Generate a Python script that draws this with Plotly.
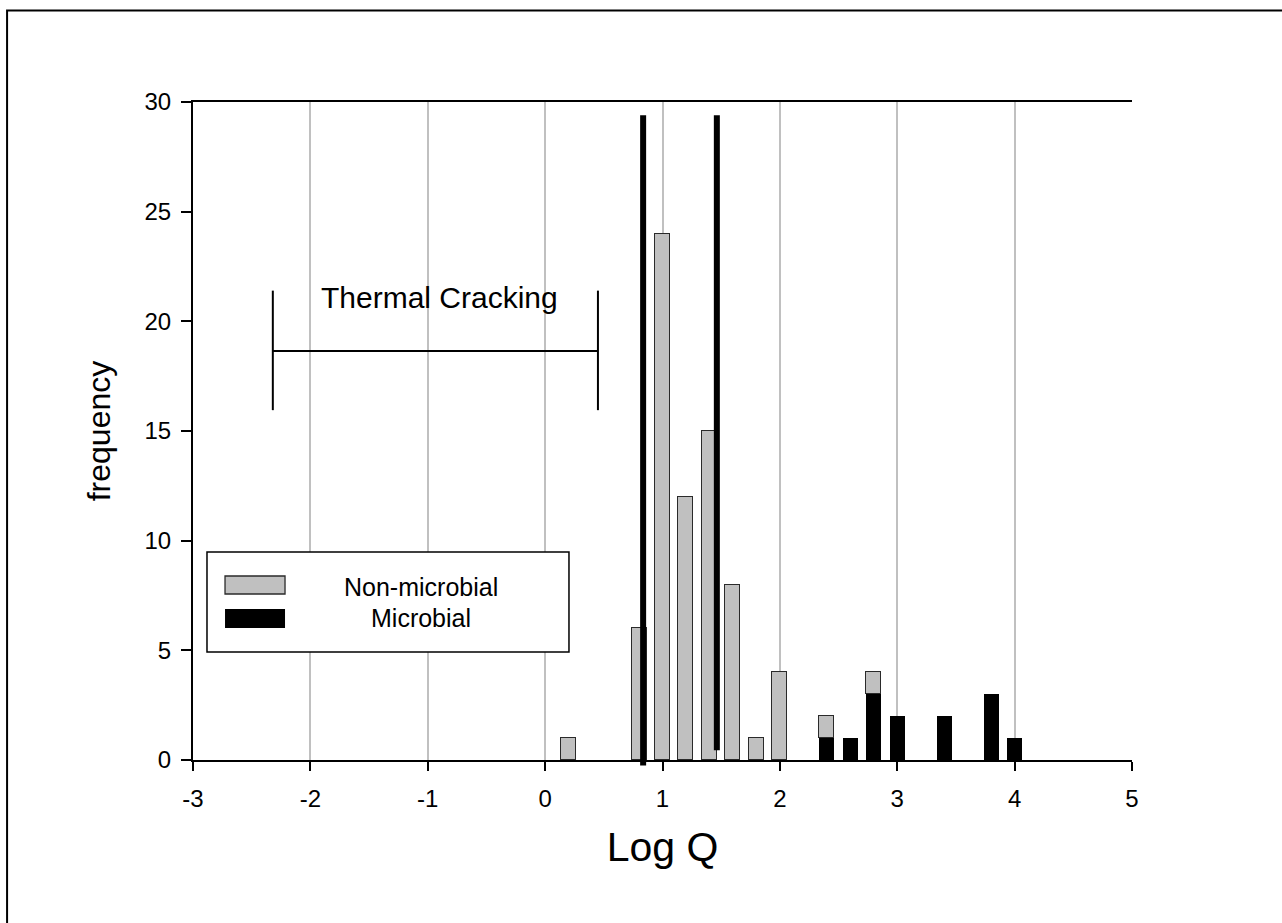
import plotly.graph_objects as go

# ---------------- data ----------------
bin_centers = [0.2, 0.8, 1.0, 1.2, 1.4, 1.6, 1.8, 2.0, 2.4, 2.6, 2.8, 3.0, 3.4, 3.8, 4.0]
non_microbial = [1, 6, 24, 12, 15, 8, 1, 4, 1, 0, 1, 0, 0, 0, 0]
microbial = [0, 0, 0, 0, 0, 0, 0, 0, 1, 1, 3, 2, 2, 3, 1]

x_ticks = [-3, -2, -1, 0, 1, 2, 3, 4, 5]
x_tick_labels = ["-3", "-2", "-1", "0", "1", "2", "3", "4", "5"]
x_grid = [-2, -1, 0, 1, 2, 3, 4]
y_ticks = [0, 5, 10, 15, 20, 25, 30]
y_tick_labels = ["0", "5", "10", "15", "20", "25", "30"]

ref_lines_x = [0.835, 1.463]
ref_lines_bottom = [-0.25, 0.45]
ref_lines_top = [29.4, 29.4]

thermal_range = [-2.32, 0.45]
thermal_y = 18.65
thermal_caps = [15.95, 21.4]
thermal_label = "Thermal Cracking"
thermal_label_pos = [-0.9, 21.1]

X_RANGE = [-3, 5]
Y_RANGE = [0, 30]
BAR_WIDTH = 0.128

FONT = "Liberation Sans, Arial, sans-serif"

fig = go.Figure()

mx = [x for x, v in zip(bin_centers, microbial) if v > 0]
my = [v for v in microbial if v > 0]
nx = [x for x, v in zip(bin_centers, non_microbial) if v > 0]
ny = [v for v in non_microbial if v > 0]

fig.add_trace(go.Bar(x=mx, y=my, width=BAR_WIDTH, name="Microbial",
                     marker=dict(color="#000000", line=dict(width=0)),
                     showlegend=False))
fig.add_trace(go.Bar(x=nx, y=ny, width=BAR_WIDTH, name="Non-microbial",
                     marker=dict(color="#c0c0c0", line=dict(color="#2a2a2a", width=1.3)),
                     showlegend=False))

# Thermal cracking range bar
tx = [thermal_range[0], thermal_range[1], None,
      thermal_range[0], thermal_range[0], None,
      thermal_range[1], thermal_range[1]]
ty = [thermal_y, thermal_y, None,
      thermal_caps[0], thermal_caps[1], None,
      thermal_caps[0], thermal_caps[1]]
fig.add_trace(go.Scatter(x=tx, y=ty, mode="lines", line=dict(color="black", width=2),
                         showlegend=False, hoverinfo="skip"))

fig.add_annotation(x=thermal_label_pos[0], y=thermal_label_pos[1], text=thermal_label,
                   showarrow=False, font=dict(family=FONT, size=30, color="black"),
                   xanchor="center", yanchor="middle")

# Thick reference lines (may extend slightly below the x axis)
span = Y_RANGE[1] - Y_RANGE[0]
for xv, yb, yt in zip(ref_lines_x, ref_lines_bottom, ref_lines_top):
    fig.add_shape(type="line", xref="x", yref="paper",
                  x0=xv, x1=xv,
                  y0=(yb - Y_RANGE[0]) / span, y1=(yt - Y_RANGE[0]) / span,
                  line=dict(color="black", width=6), layer="above")

# Manual legend box
fig.add_shape(type="rect", xref="paper", yref="paper", x0=0.0149, x1=0.4004, y0=0.1641, y1=0.3161,
              line=dict(color="black", width=1.5), fillcolor="white", layer="above")
fig.add_shape(type="rect", xref="paper", yref="paper", x0=0.0341, x1=0.098, y0=0.2523, y1=0.2796,
              line=dict(color="#2a2a2a", width=1.3), fillcolor="#c0c0c0", layer="above")
fig.add_shape(type="rect", xref="paper", yref="paper", x0=0.0341, x1=0.098, y0=0.2006, y1=0.2295,
              line=dict(color="black", width=0), fillcolor="black", layer="above")
fig.add_annotation(xref="paper", yref="paper", x=0.2428, y=0.2634, text="Non-microbial",
                   showarrow=False, font=dict(family=FONT, size=25, color="black"),
                   xanchor="center", yanchor="middle")
fig.add_annotation(xref="paper", yref="paper", x=0.2428, y=0.2158, text="Microbial",
                   showarrow=False, font=dict(family=FONT, size=25, color="black"),
                   xanchor="center", yanchor="middle")

# Outer frame
fig.add_shape(type="rect", xref="paper", yref="paper", x0=-0.198, x1=1.2, y0=-0.3, y1=1.139,
              line=dict(color="black", width=2), fillcolor="rgba(0,0,0,0)", layer="above")

fig.update_layout(
    width=1282, height=923,
    margin=dict(l=193, r=150, t=102, b=163, pad=0),
    paper_bgcolor="white", plot_bgcolor="white",
    barmode="stack", bargap=0,
    font=dict(family=FONT, size=24, color="black"),
    showlegend=False,
)

fig.update_xaxes(
    range=X_RANGE, tickmode="array", tickvals=x_ticks, ticktext=x_tick_labels,
    ticks="outside", ticklen=9, tickwidth=2, tickcolor="black",
    ticklabelstandoff=7,
    showline=True, linecolor="black", linewidth=2, mirror=True,
    showgrid=False, zeroline=False,
    minor=dict(tickmode="array", tickvals=x_grid, showgrid=True,
               gridcolor="#c0c0c0", gridwidth=1.5, ticks=""),
    tickfont=dict(family=FONT, size=24, color="black"),
    title=dict(text="Log Q", font=dict(family=FONT, size=41, color="black"), standoff=22),
)
fig.update_yaxes(
    range=Y_RANGE, tickmode="array", tickvals=y_ticks, ticktext=y_tick_labels,
    ticks="outside", ticklen=10, tickwidth=2, tickcolor="black",
    ticklabelstandoff=5,
    showline=True, linecolor="black", linewidth=2, mirror=False,
    showgrid=False, zeroline=False,
    tickfont=dict(family=FONT, size=24, color="black"),
    title=dict(text="frequency", font=dict(family=FONT, size=32, color="black"), standoff=24),
)

fig.write_html("out.html", config={"displayModeBar": False})
